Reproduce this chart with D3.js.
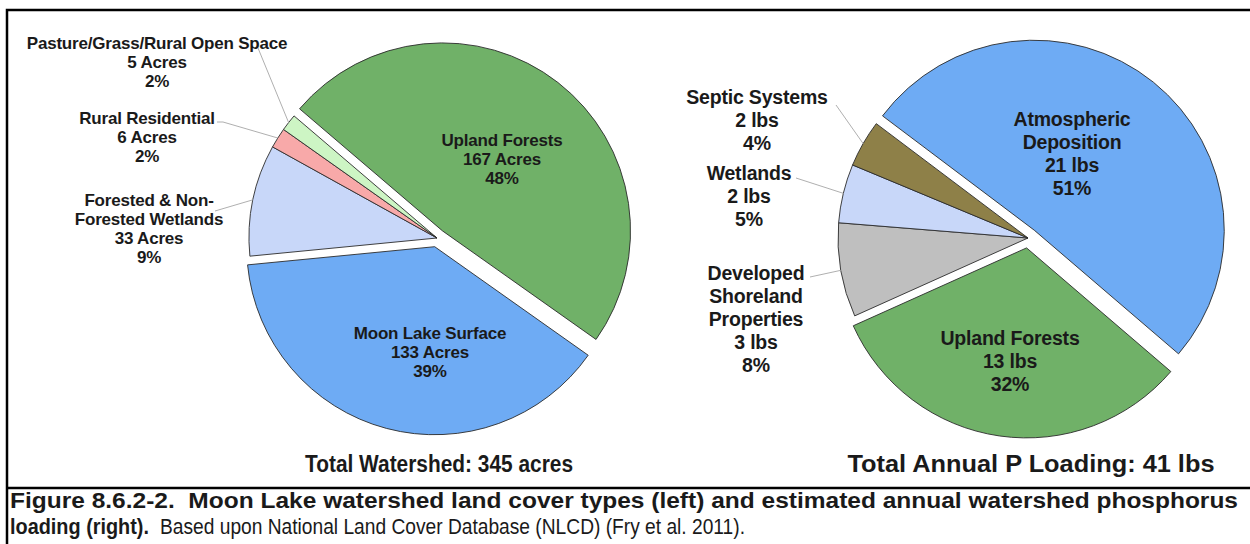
<!DOCTYPE html>
<html>
<head>
<meta charset="utf-8">
<script src="https://cdn.jsdelivr.net/npm/d3@7"></script>
<style>
  body { margin: 0; background: #fff; }
  svg text { font-family: 'Liberation Sans', Arial, sans-serif; fill: #1a1a1a; }
</style>
</head>
<body>
<svg id="chart"></svg>
<script>
// land cover (left pie)
const landNames = ['Upland Forests', 'Moon Lake Surface', 'Forested & Non-\nForested Wetlands', 'Rural Residential', 'Pasture/Grass/Rural Open Space'];
const landAcres = [167, 133, 33, 6, 5];
const landPct = [48, 39, 9, 2, 2];
const landColors = ['#70b168', '#6eabf4', '#c8d7f9', '#f8a9a9', '#cdf5c4'];

// phosphorus loading (right pie)
const loadNames = ['Atmospheric\nDeposition', 'Upland Forests', 'Developed\nShoreland\nProperties', 'Wetlands', 'Septic Systems'];
const loadLbs = [21, 13, 3, 2, 2];
const loadPct = [51, 32, 8, 5, 4];
const loadColors = ['#6eabf4', '#70b168', '#bfbfbf', '#c8d7f9', '#8e8048'];

const width = 1250, height = 544;
const svg = d3.select('#chart').attr('width', width).attr('height', height);

svg.append('rect').attr('width', width).attr('height', height).attr('fill', '#fff');

// frame + separator
svg.append('rect')
    .attr('x', 7).attr('y', 10)
    .attr('width', 1260).attr('height', 560)
    .attr('fill', 'none').attr('stroke', '#000').attr('stroke-width', 2.5);
svg.append('line')
    .attr('x1', 7).attr('x2', width).attr('y1', 488).attr('y2', 488)
    .attr('stroke', '#000').attr('stroke-width', 2.5);

const toRad = d => d * Math.PI / 180;

function drawPie(cfg) {
    const g = svg.append('g').attr('transform', `translate(${cfg.cx},${cfg.cy})`);
    const pie = d3.pie().sort(null)
        .startAngle(toRad(cfg.start))
        .endAngle(toRad(cfg.start + 360))
        .value(d => d.value);
    const arc = d3.arc().innerRadius(0).outerRadius(cfg.r);
    const arcs = pie(cfg.data);

    g.selectAll('path.slice')
        .data(arcs)
        .enter().append('path')
        .attr('class', 'slice')
        .attr('d', arc)
        .attr('fill', (d, i) => cfg.colors[i])
        .attr('stroke', '#2b2b2b')
        .attr('stroke-width', 0.9)
        .attr('transform', (d, i) => {
            if (!cfg.explode.includes(i)) return null;
            const a = (d.startAngle + d.endAngle) / 2;
            return `translate(${Math.sin(a) * cfg.offset},${-Math.cos(a) * cfg.offset})`;
        });

    // labels
    arcs.forEach((d, i) => {
        const lay = cfg.labels[i];
        const lines = cfg.text(d.data);
        const t = svg.append('text')
            .attr('text-anchor', 'middle')
            .attr('font-size', cfg.fontSize)
            .attr('font-weight', 'bold')
            .attr('letter-spacing', cfg.spacing);
        lines.forEach((ln, k) => {
            t.append('tspan')
                .attr('x', lay.x)
                .attr('y', lay.y + k * cfg.lineH + cfg.fontSize * 0.36)
                .text(ln);
        });
        if (lay.leader) {
            const a = (d.startAngle + d.endAngle) / 2;
            const tx = cfg.cx + Math.sin(a) * cfg.r;
            const ty = cfg.cy - Math.cos(a) * cfg.r;
            const pts = lay.leader.concat([[tx, ty]]);
            svg.append('path')
                .attr('d', d3.line()(pts))
                .attr('fill', 'none')
                .attr('stroke', '#a6a6a6')
                .attr('stroke-width', 0.9);
        }
    });
}

drawPie({
    cx: 437, cy: 238, r: 188, start: -49.5, offset: 9, explode: [0, 1],
    data: landNames.map((n, i) => ({ name: n, value: landAcres[i], amt: landAcres[i], pct: landPct[i] })),
    colors: landColors,
    fontSize: 17, lineH: 18.8, spacing: -0.2,
    text: d => d.name.split('\n').concat([`${d.amt} Acres`, `${d.pct}%`]),
    labels: [
        { x: 502, y: 140 },
        { x: 430, y: 333 },
        { x: 149, y: 200, leader: [[215, 211]] },
        { x: 147, y: 118, leader: [[217, 122], [223, 122]] },
        { x: 157, y: 43, leader: [[258, 48]] }
    ]
});

drawPie({
    cx: 1028, cy: 238, r: 190, start: -53, offset: 10, explode: [0, 1],
    data: loadNames.map((n, i) => ({ name: n, value: loadPct[i], amt: loadLbs[i], pct: loadPct[i] })),
    colors: loadColors,
    fontSize: 19.5, lineH: 23, spacing: -0.2,
    text: d => d.name.split('\n').concat([`${d.amt} lbs`, `${d.pct}%`]),
    labels: [
        { x: 1072, y: 119 },
        { x: 1010, y: 338 },
        { x: 756, y: 273, leader: [[810, 277]] },
        { x: 749, y: 173, leader: [[796, 178]] },
        { x: 757, y: 97, leader: [[836, 105]] }
    ]
});

// totals under each pie
const totals = [
    { text: 'Total Watershed: 345 acres', x: 439, w: 268 },
    { text: 'Total Annual P Loading: 41 lbs', x: 1031, w: 367 }
];
totals.forEach(t => {
    svg.append('text')
        .attr('x', t.x - t.w / 2).attr('y', 472)
        .attr('font-size', 23).attr('font-weight', 'bold')
        .attr('textLength', t.w).attr('lengthAdjust', 'spacingAndGlyphs')
        .text(t.text);
});

// caption
svg.append('text')
    .attr('x', 10).attr('y', 508)
    .attr('font-size', 22).attr('font-weight', 'bold')
    .attr('textLength', 1228).attr('lengthAdjust', 'spacingAndGlyphs')
    .style('white-space', 'pre')
    .text('Figure 8.6.2-2.  Moon Lake watershed land cover types (left) and estimated annual watershed phosphorus');

svg.append('text')
    .attr('x', 10).attr('y', 534)
    .attr('font-size', 22).attr('font-weight', 'bold')
    .attr('textLength', 139).attr('lengthAdjust', 'spacingAndGlyphs')
    .text('loading (right).');

svg.append('text')
    .attr('x', 160).attr('y', 534)
    .attr('font-size', 22)
    .attr('textLength', 585).attr('lengthAdjust', 'spacingAndGlyphs')
    .text('Based upon National Land Cover Database (NLCD) (Fry et al. 2011).');
</script>
</body>
</html>
